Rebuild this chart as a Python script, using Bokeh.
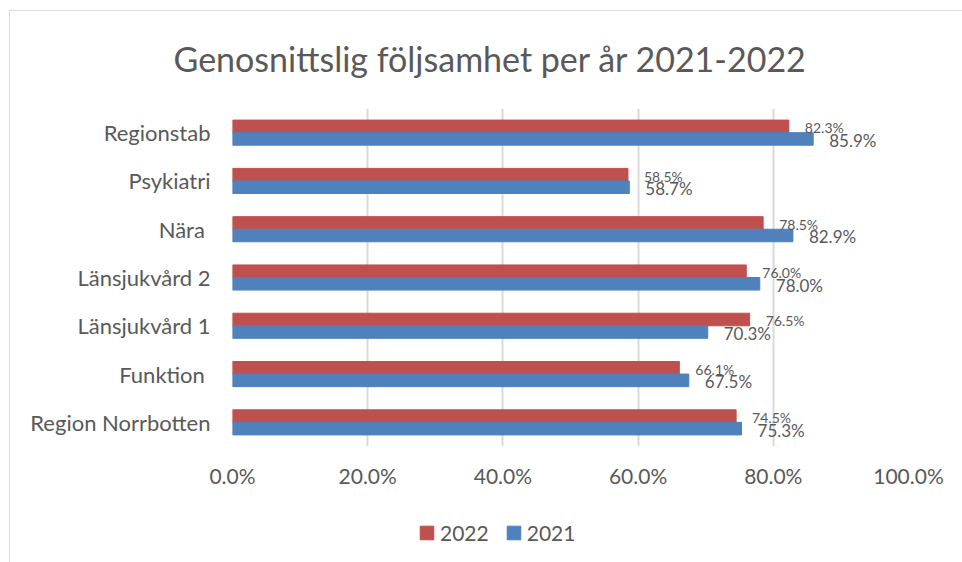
from bokeh.plotting import figure
from bokeh.layouts import column
from bokeh.models import (FactorRange, Range1d, ColumnDataSource, FixedTicker,
                          NumeralTickFormatter, Legend, LegendItem, Title, InlineStyleSheet)
from bokeh.transform import dodge
from bokeh.core.properties import value
from bokeh.embed import file_html
from bokeh.resources import INLINE

categories = ["Regionstab", "Psykiatri", "Nära ", "Länsjukvård 2", "Länsjukvård 1",
              "Funktion ", "Region Norrbotten"]
values_2022 = [82.3, 58.5, 78.5, 76.0, 76.5, 66.1, 74.5]
values_2021 = [85.9, 58.7, 82.9, 78.0, 70.3, 67.5, 75.3]
x_ticks = [0.0, 0.2, 0.4, 0.6, 0.8, 1.0]
series_names = ["2022", "2021"]

FONT = "Lato"
GREY = "#595959"
RED = "#C0504D"
BLUE = "#4F81BD"

src = ColumnDataSource(dict(
    cat=categories,
    v22=[v / 100 for v in values_2022],
    v21=[v / 100 for v in values_2021],
    l22=[f"{v:.1f}%" for v in values_2022],
    l21=[f"{v:.1f}%" for v in values_2021],
))

p = figure(width=960, height=505, output_backend="svg", toolbar_location=None,
           y_range=FactorRange(*reversed(categories)), x_range=Range1d(0, 1.0),
           min_border_left=232, min_border_right=52, min_border_top=108,
           min_border_bottom=59)
p.outline_line_color = None
p.background_fill_color = "white"
p.border_fill_color = "white"

p.title = Title(text="Genosnittslig följsamhet per år 2021-2022", align="left",
                offset=-59, text_font=FONT, text_font_size="34px", text_color=GREY,
                text_font_style="normal", standoff=60)

r22 = p.hbar(y=dodge("cat", 0.13, range=p.y_range), right="v22", height=0.26,
             left=0, source=src, color=RED, line_color=RED)
r21 = p.hbar(y=dodge("cat", -0.13, range=p.y_range), right="v21", height=0.26,
             left=0, source=src, color=BLUE, line_color=BLUE)

p.text(x="v22", y=dodge("cat", 0.10, range=p.y_range), text="l22", source=src,
       x_offset=16, text_baseline="middle", text_font=value(FONT),
       text_font_size="14px", text_color=GREY)
p.text(x="v21", y=dodge("cat", -0.16, range=p.y_range), text="l21", source=src,
       x_offset=16, text_baseline="middle", text_font=value(FONT),
       text_font_size="17px", text_color=GREY)

p.xaxis.ticker = FixedTicker(ticks=x_ticks)
p.xaxis.formatter = NumeralTickFormatter(format="0.0%")
for ax in (p.xaxis[0], p.yaxis[0]):
    ax.axis_line_color = None
    ax.major_tick_line_color = None
    ax.minor_tick_line_color = None
    ax.major_label_text_font = FONT
    ax.major_label_text_color = GREY
p.xaxis.major_label_text_font_size = "21px"
p.yaxis.major_label_text_font_size = "22px"
p.xaxis.major_label_standoff = 10
p.yaxis.major_label_standoff = 16

p.xgrid.ticker = FixedTicker(ticks=x_ticks)
p.xgrid.grid_line_color = "#d9d9d9"
p.xgrid.grid_line_width = 2
p.ygrid.grid_line_color = None

# legend strip below the chart (its frame is aligned with the chart's frame)
lg = figure(width=960, height=50, output_backend="svg", toolbar_location=None,
            x_range=Range1d(0, 1), y_range=Range1d(0, 1),
            min_border_left=0, min_border_right=0, min_border_top=0,
            min_border_bottom=0)
lg.axis.visible = False
lg.grid.visible = False
lg.outline_line_color = None
lg.border_fill_color = "white"
swatch = ColumnDataSource(dict(x=[-5], y=[-5]))
s22 = lg.rect(x="x", y="y", width=1, height=1, source=swatch, color=RED, line_color=RED)
s21 = lg.rect(x="x", y="y", width=1, height=1, source=swatch, color=BLUE, line_color=BLUE)

legend = Legend(items=[LegendItem(label=series_names[0], renderers=[s22]),
                       LegendItem(label=series_names[1], renderers=[s21])],
                orientation="horizontal", location=(186, 10),
                border_line_color=None, background_fill_alpha=0,
                glyph_width=17, glyph_height=17, label_text_font=FONT,
                label_text_font_size="21px", label_text_color=GREY,
                spacing=16, label_standoff=5, padding=0, margin=0)
lg.add_layout(legend)

layout = column(p, lg, spacing=0)
layout.stylesheets = [InlineStyleSheet(css="""
:host { position: relative; }
:host::after {
  content: '';
  position: absolute;
  left: 9px; top: 10px; right: -10px; bottom: -10px;
  border-left: 1px solid #d9d9d9;
  border-top: 1px solid #d9d9d9;
  pointer-events: none;
  z-index: 10;
}
""")]
open("out.html", "w").write(file_html(layout, INLINE))
